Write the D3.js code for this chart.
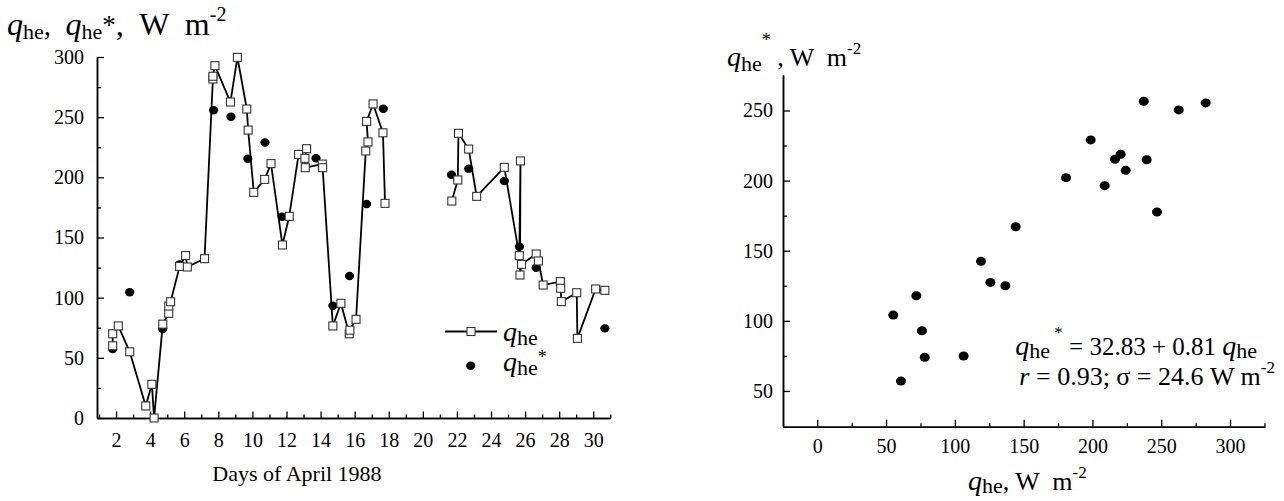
<!DOCTYPE html>
<html>
<head>
<meta charset="utf-8">
<script src="https://cdn.jsdelivr.net/npm/d3@7"></script>
<style>
  body { margin: 0; background: #fff; }
  svg text { fill: #000; white-space: pre; }
</style>
</head>
<body>
<svg id="chart" width="1284" height="501"></svg>
<script>
// ---------- data ----------
// Left chart: measured q_he (squares joined by a line), null = gap in the record
const qheDay = [1.8, 1.8, 2.13, 2.8, 3.74, 4.1, 4.23, 4.74, 5.09, 5.09, 5.2, 5.73, 6.08, 6.18, 7.19,
  7.68, 7.68, 7.8, 8.71, 9.12, 9.67, 9.75, 10.08, 10.72, 11.09, 11.76, 12.16, 12.71, 13.18, 13.08, 13.1,
  14.1, 14.12, 14.72, 15.19, 15.68, 15.72, 16.08, 16.65, 16.78, 16.7, 17.08, 17.66, 17.78,
  19.5,
  21.7, 22.05, 22.09, 22.69, 23.16, 24.78, 25.66, 25.73, 25.7, 25.79, 26.65, 26.78, 27.06,
  28.07, 28.09, 28.13, 29.03, 29.07, 30.14, 30.68];
const qheValue = [60, 70, 76.5, 55, 10, 28, 0, 78, 87, 93, 96.6, 126, 135, 125.5, 132.4,
  281.7, 284, 292.8, 262.6, 299.7, 256.8, 239.3, 187.5, 198.3, 211.4, 143.8, 167.6, 219, 223.8, 215.8, 208,
  211, 208, 76.5, 95.3, 70, 73, 82, 221.9, 229.4, 246.5, 261, 237, 178.4,
  null,
  180.3, 197.8, 236.6, 223.5, 184.2, 208.3, 134.9, 213.6, 118.8, 127.7, 136.3, 130.5, 110.5,
  113.3, 107.8, 96.7, 104.1, 66.2, 107.2, 106.1];
// Left chart: modelled q_he* (black dots)
const starDay = [1.8, 2.8, 4.74, 5.73, 7.72, 8.74, 9.73, 10.74, 11.74, 12.71, 13.73, 14.72, 15.7,
  16.7, 17.68, 21.68, 22.69, 24.78, 25.67, 26.65, 30.68];
const starValue = [57.3, 104.5, 74, 127.7, 255.7, 250.4, 215.5, 229, 167.3, 219.4, 215.8, 93.3, 118,
  177.8, 257, 202.2, 207.2, 197, 142.4, 124.9, 74.5];
const dayTicks = [2, 4, 6, 8, 10, 12, 14, 16, 18, 20, 22, 24, 26, 28, 30];
const leftYTicks = [0, 50, 100, 150, 200, 250, 300];

// Right chart: scatter q_he vs q_he*
const scatterQhe = [55.2, 60.8, 72, 76.1, 78.1, 106.4, 119, 125.8, 136.7, 144.2, 180.8, 198.7,
  208.9, 216.4, 220.5, 224.2, 237.3, 239.4, 246.9, 262.7, 282.3];
const scatterQheStar = [104.1, 57, 117.9, 92.9, 74, 74.9, 142.4, 127.4, 125, 167.1, 202.1, 229,
  196.4, 215.2, 218.8, 207.3, 256.6, 214.9, 177.6, 250.4, 255.4];
const rightXTicks = [0, 50, 100, 150, 200, 250, 300];
const rightYTicks = [50, 100, 150, 200, 250];

// ---------- helpers ----------
const FONT = "Times New Roman, Times, Liberation Serif, DejaVu Serif, serif";
const svg = d3.select("#chart").style("font-family", FONT);
svg.append("rect").attr("width", 1284).attr("height", 501).attr("fill", "#fff");

function rich(x, y, anchor, parts) {
  const t = svg.append("text").attr("x", x).attr("y", y).attr("text-anchor", anchor)
    .style("font-family", FONT);
  let cur = 0;
  parts.forEach(p => {
    const shift = p.dy || 0;
    t.append("tspan").text(p.t)
      .attr("font-size", p.s)
      .attr("font-style", p.i ? "italic" : "normal")
      .attr("dy", shift - cur);
    cur = shift;
  });
  return t;
}

function styleAxis(g) {
  g.attr("font-family", null);
  g.select(".domain").attr("stroke", "#000").attr("stroke-width", 1.5);
  g.selectAll(".tick line").attr("stroke", "#000").attr("stroke-width", 1.3);
  g.selectAll(".tick text").attr("font-size", 20).attr("fill", "#000").style("font-family", FONT);
}

// ---------- left chart ----------
const xL = d3.scaleLinear().domain([0.88, 31]).range([97, 610.3]);
const yL = d3.scaleLinear().domain([0, 300]).range([418, 57]);

const gxL = svg.append("g").attr("transform", `translate(0,${yL(0)})`);
gxL.call(d3.axisBottom(xL).tickValues(d3.range(1, 32, 2)).tickSize(-3.5).tickSizeOuter(0).tickFormat(""));
gxL.call(styleAxis);
const gxL2 = svg.append("g").attr("transform", `translate(0,${yL(0)})`);
gxL2.call(d3.axisBottom(xL).tickValues(dayTicks).tickSize(-6.5).tickSizeOuter(0).tickPadding(15).tickFormat(d3.format("d")));
gxL2.call(styleAxis);

const gyL = svg.append("g").attr("transform", `translate(${xL.range()[0]},0)`);
gyL.call(d3.axisLeft(yL).tickValues(d3.range(25, 300, 50)).tickSize(-4).tickSizeOuter(0).tickFormat(""));
gyL.call(styleAxis);
const gyL2 = svg.append("g").attr("transform", `translate(${xL.range()[0]},0)`);
gyL2.call(d3.axisLeft(yL).tickValues(leftYTicks).tickSize(-7).tickSizeOuter(0).tickPadding(13).tickFormat(d3.format("d")));
gyL2.call(styleAxis);

const qhePts = qheDay.map((d, i) => ({ d, v: qheValue[i] }));
const line = d3.line().defined(p => p.v !== null).x(p => xL(p.d)).y(p => yL(p.v));
svg.append("path").datum(qhePts).attr("d", line)
  .attr("fill", "none").attr("stroke", "#000").attr("stroke-width", 1.8);

const starPts = starDay.map((d, i) => ({ d, v: starValue[i] }));
svg.append("g").selectAll("ellipse").data(starPts).join("ellipse")
  .attr("cx", p => xL(p.d)).attr("cy", p => yL(p.v)).attr("rx", 4.6).attr("ry", 4.2).attr("fill", "#000");

svg.append("g").selectAll("rect").data(qhePts.filter(p => p.v !== null)).join("rect")
  .attr("x", p => xL(p.d) - 4).attr("y", p => yL(p.v) - 4).attr("width", 8).attr("height", 8)
  .attr("fill", "#fff").attr("stroke", "#333").attr("stroke-width", 1.1);

// left titles
rich(7, 35, "start", [
  { t: "q", i: 1, s: 32 }, { t: "he", s: 22, dy: 4 }, { t: ",  ", s: 29, dy: 0 },
  { t: "q", i: 1, s: 32 }, { t: "he", s: 22, dy: 4 }, { t: "*", s: 27, dy: -1 },
  { t: ",  W  m", s: 32, dy: 0 }, { t: "-2", s: 20, dy: -14 }
]);
svg.append("text").attr("x", 297).attr("y", 481).attr("text-anchor", "middle")
  .style("font-family", FONT).attr("font-size", 22).text("Days of April 1988");

// legend
svg.append("line").attr("x1", 445).attr("x2", 497).attr("y1", 331.5).attr("y2", 331.5)
  .attr("stroke", "#000").attr("stroke-width", 1.8);
svg.append("rect").attr("x", 467).attr("y", 327.5).attr("width", 8).attr("height", 8)
  .attr("fill", "#fff").attr("stroke", "#333").attr("stroke-width", 1.1);
svg.append("ellipse").attr("cx", 470.7).attr("cy", 365.7).attr("rx", 4.6).attr("ry", 4.2).attr("fill", "#000");
rich(503, 341, "start", [{ t: "q", i: 1, s: 28 }, { t: "he", s: 22, dy: 4 }]);
rich(503, 371, "start", [{ t: "q", i: 1, s: 28 }, { t: "he", s: 22, dy: 4 }, { t: "*", s: 18, dy: -8 }]);

// ---------- right chart ----------
const xR = d3.scaleLinear().domain([-24.9, 325.4]).range([783, 1265]);
const yR = d3.scaleLinear().domain([24.5, 275.3]).range([426.7, 75]);

const gxR = svg.append("g").attr("transform", `translate(0,${yR.range()[0]})`);
gxR.call(d3.axisBottom(xR).tickValues(d3.range(25, 326, 50)).tickSize(-3.5).tickSizeOuter(0).tickFormat(""));
gxR.call(styleAxis);
const gxR2 = svg.append("g").attr("transform", `translate(0,${yR.range()[0]})`);
gxR2.call(d3.axisBottom(xR).tickValues(rightXTicks).tickSize(-7).tickSizeOuter(0).tickPadding(12).tickFormat(d3.format("d")));
gxR2.call(styleAxis);

const gyR = svg.append("g").attr("transform", `translate(${xR.range()[0]},0)`);
gyR.call(d3.axisLeft(yR).tickValues(d3.range(75, 275, 50)).tickSize(-4).tickSizeOuter(0).tickFormat(""));
gyR.call(styleAxis);
const gyR2 = svg.append("g").attr("transform", `translate(${xR.range()[0]},0)`);
gyR2.call(d3.axisLeft(yR).tickValues(rightYTicks).tickSize(-7).tickSizeOuter(0).tickPadding(10).tickFormat(d3.format("d")));
gyR2.call(styleAxis);

const scPts = scatterQhe.map((x, i) => ({ x, y: scatterQheStar[i] }));
svg.append("g").selectAll("ellipse").data(scPts).join("ellipse")
  .attr("cx", p => xR(p.x)).attr("cy", p => yR(p.y)).attr("rx", 5).attr("ry", 4.5).attr("fill", "#000");

// right titles
rich(727, 66, "start", [
  { t: "q", i: 1, s: 28 }, { t: "he", s: 22, dy: 5 }, { t: "*", s: 18, dy: -20 },
  { t: " , W  m", s: 26, dy: 0 }, { t: "-2", s: 17, dy: -12 }
]);
rich(968, 490, "start", [
  { t: "q", i: 1, s: 28 }, { t: "he", s: 22, dy: 3 }, { t: ", W  m", s: 26, dy: 0 }, { t: "-2", s: 17, dy: -12 }
]);
rich(1257, 355, "end", [
  { t: "q", i: 1, s: 28 }, { t: "he", s: 22, dy: 3 }, { t: " *", s: 17, dy: -17 },
  { t: " = 32.83 + 0.81 ", s: 25, dy: 0 }, { t: "q", i: 1, s: 28 }, { t: "he", s: 22, dy: 3 }
]);
rich(1275, 385, "end", [
  { t: "r", i: 1, s: 26 }, { t: " = 0.93; σ = 24.6 W m", s: 26, dy: 0 }, { t: "-2", s: 17, dy: -12 }
]);
</script>
</body>
</html>
